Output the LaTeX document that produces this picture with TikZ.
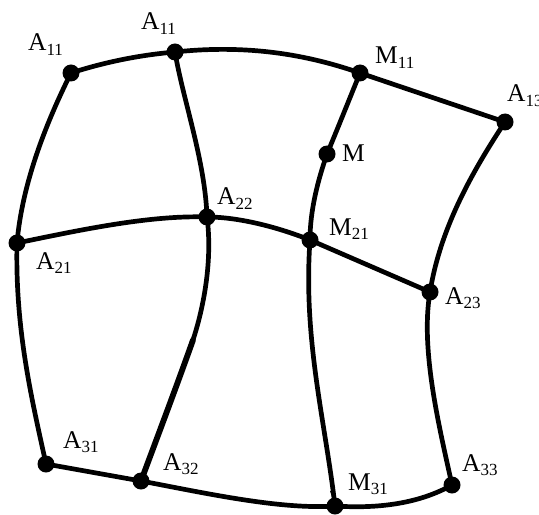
\documentclass[tikz,border=0pt]{standalone}
\usepackage{fontspec}
\setmainfont{Liberation Serif}
\newcommand{\lab}[2]{#1\raisebox{-4.5bp}{\fontsize{17bp}{17bp}\selectfont #2}}
\tikzset{
  pt/.style={circle,fill=black,inner sep=0pt,minimum size=17bp},
  lbl/.style={inner sep=0pt,anchor=base west,font=\fontsize{25.5bp}{27bp}\selectfont},
  edge/.style={line width=4.7bp,line cap=round,line join=round},
  thick edge/.style={line width=5.8bp,line cap=round,line join=round}
}
\begin{document}
\begin{tikzpicture}[x=1bp,y=-1bp]
\useasboundingbox (0,0) rectangle (539,515);
\fill[white] (0,0) rectangle (539,515);
\begin{scope}
\clip (0,0) rectangle (539,515);
\node[pt] (a) at (71,73) {};
\node[pt] (b) at (175,52) {};
\node[pt] (c) at (360,73) {};
\node[pt] (d) at (505,122) {};
\node[pt] (m) at (327,154) {};
\node[pt] (e) at (17,243) {};
\node[pt] (f) at (207,217) {};
\node[pt] (g) at (310,240) {};
\node[pt] (h) at (430,292) {};
\node[pt] (i) at (46,464) {};
\node[pt] (j) at (141,481) {};
\node[pt] (k) at (335,506) {};
\node[pt] (l) at (452,485) {};
\coordinate (p) at (193,340);
\draw[edge] (a.center) .. controls (105,62) and (140,55) .. (b.center);
\draw[edge] (b.center) .. controls (240,45) and (300,52) .. (c.center);
\draw[edge] (c.center) -- (d.center);
\draw[edge] (a.center) .. controls (45,125) and (22,185) .. (e.center);
\draw[edge] (b.center) .. controls (183,100) and (205,160) .. (f.center);
\draw[edge] (c.center) .. controls (347,105) and (337,130) .. (m.center);
\draw[edge] (m.center) .. controls (318,180) and (310,210) .. (g.center);
\draw[edge] (d.center) .. controls (470,175) and (440,230) .. (h.center);
\draw[edge] (e.center) .. controls (80,230) and (150,215) .. (f.center);
\draw[edge] (f.center) .. controls (240,217) and (280,228) .. (g.center);
\draw[edge] (g.center) -- (h.center);
\draw[edge] (e.center) .. controls (15,330) and (32,400) .. (i.center);
\draw[edge] (f.center) .. controls (212,255) and (206,300) .. (p);
\draw[thick edge] (p) .. controls (177,385) and (160,430) .. (j.center);
\draw[edge] (g.center) .. controls (303,340) and (325,420) .. (k.center);
\fill (330,491) -- (333,491) -- (333,500) -- cycle;
\draw[edge] (h.center) .. controls (420,350) and (440,430) .. (l.center);
\draw[edge] (i.center) -- (j.center);
\draw[edge] (j.center) .. controls (200,492) and (280,510) .. (k.center);
\draw[edge] (k.center) .. controls (380,509) and (420,503) .. (l.center);
\node[lbl] (t1) at (28,51) {\lab{A}{11}};
\node[lbl] (t2) at (141,30) {\lab{A}{11}};
\node[lbl] (t3) at (375,64) {\lab{M}{11}};
\node[lbl] (t4) at (507,102) {\lab{A}{13}};
\node[lbl] (t5) at (342,162) {M};
\node[lbl] (t6) at (217,205) {\lab{A}{22}};
\node[lbl] (t7) at (329,235) {\lab{M}{21}};
\node[lbl] (t8) at (36,269) {\lab{A}{21}};
\node[lbl] (t9) at (445,304) {\lab{A}{23}};
\node[lbl] (t10) at (63,448) {\lab{A}{31}};
\node[lbl] (t11) at (163,470) {\lab{A}{32}};
\node[lbl] (t12) at (348,490) {\lab{M}{31}};
\node[lbl] (t13) at (462,471) {\lab{A}{33}};
\end{scope}
\end{tikzpicture}
\end{document}
